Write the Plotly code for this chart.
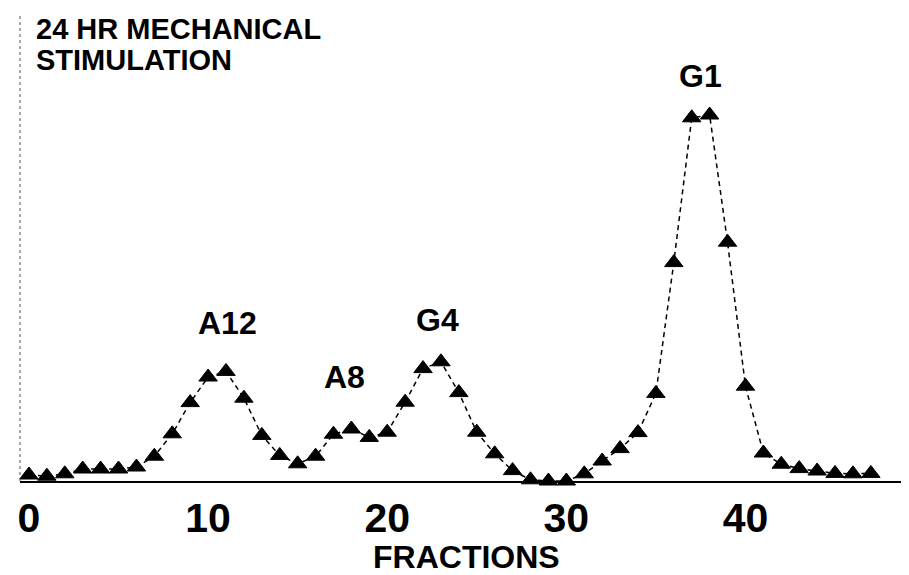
import plotly.graph_objects as go

# Data (arbitrary absorbance units)
fractions = list(range(48))
absorbance = [1.5, 1.2, 1.8, 3.0, 3.0, 3.0, 3.5, 6.2, 11.8, 19.6, 26.0, 27.4, 20.7, 11.4, 6.4, 4.3,
              6.2, 11.7, 13.0, 10.9, 12.2, 19.7, 28.1, 29.8, 22.1, 12.2, 6.8, 2.6, 0.3, 0.0,
              0.0, 1.8, 5.0, 8.1, 12.1, 21.9, 54.6, 90.8, 91.5, 59.7, 23.7, 7.0, 4.2, 3.1,
              2.5, 1.9, 1.8, 1.9]
tick_vals = [0, 10, 20, 30, 40]
tick_text = ["0", "10", "20", "30", "40"]
peak_labels = ["A12", "A8", "G4", "G1"]
peak_fractions = [11, 18, 23, 38]
x_title = "FRACTIONS"
title_lines = ["24 HR MECHANICAL", "STIMULATION"]

FONT = "Liberation Sans, Arial, Helvetica, sans-serif"

fig = go.Figure()
fig.add_trace(go.Scatter(
    x=fractions, y=absorbance, mode="lines+markers",
    line=dict(color="black", width=1.5, dash="5px,4px"),
    marker=dict(symbol="triangle-up", size=16, color="black",
                line=dict(color="black", width=1)),
    cliponaxis=False, showlegend=False,
))

# peak labels placed over their peak points
xshifts = [2, -7, -3, -9]
yshifts = [48, 52, 42, 39]
for lab, fr, xs, ys in zip(peak_labels, peak_fractions, xshifts, yshifts):
    fig.add_annotation(x=fr, y=absorbance[fr], text=lab, showarrow=False,
                       xshift=xs, yshift=ys, yanchor="middle",
                       font=dict(family=FONT, size=32, color="black", weight="bold"))

# two-line chart title, top-left
for i, line in enumerate(title_lines):
    fig.add_annotation(xref="paper", yref="paper", x=0, y=1, xanchor="left",
                       yanchor="middle", text=line, showarrow=False,
                       xshift=15, yshift=-14 - 31 * i, borderpad=0,
                       font=dict(family=FONT, size=29, color="black", weight="bold"))

# x axis title
fig.add_annotation(xref="paper", yref="paper", x=0.5, y=0, xanchor="center",
                   yanchor="middle", text=x_title, showarrow=False, yshift=-76, xshift=2,
                   font=dict(family=FONT, size=32, color="black", weight="bold"))

# faint dotted y axis
fig.add_shape(type="line", xref="paper", yref="paper", x0=0, x1=0, y0=0, y1=1,
              line=dict(color="#555555", width=1, dash="dot"))

# the page body adds an 8px offset, so the figure is drawn 8px smaller
fig.update_layout(
    width=901, height=567,
    margin=dict(l=12, r=0, t=7, b=94),
    paper_bgcolor="white", plot_bgcolor="white",
    font=dict(family=FONT, color="black"),
    xaxis=dict(range=[-0.5, 49.13], tickvals=tick_vals, ticktext=tick_text,
               showgrid=False, zeroline=False, showline=True, linecolor="black",
               linewidth=2, ticks="", automargin=False,
               tickfont=dict(family=FONT, size=41, color="black", weight="bold")),
    yaxis=dict(range=[0, 116.5], showgrid=False, zeroline=False, showline=False,
               showticklabels=False, ticks="", automargin=False),
)

fig.write_html("out.html")
